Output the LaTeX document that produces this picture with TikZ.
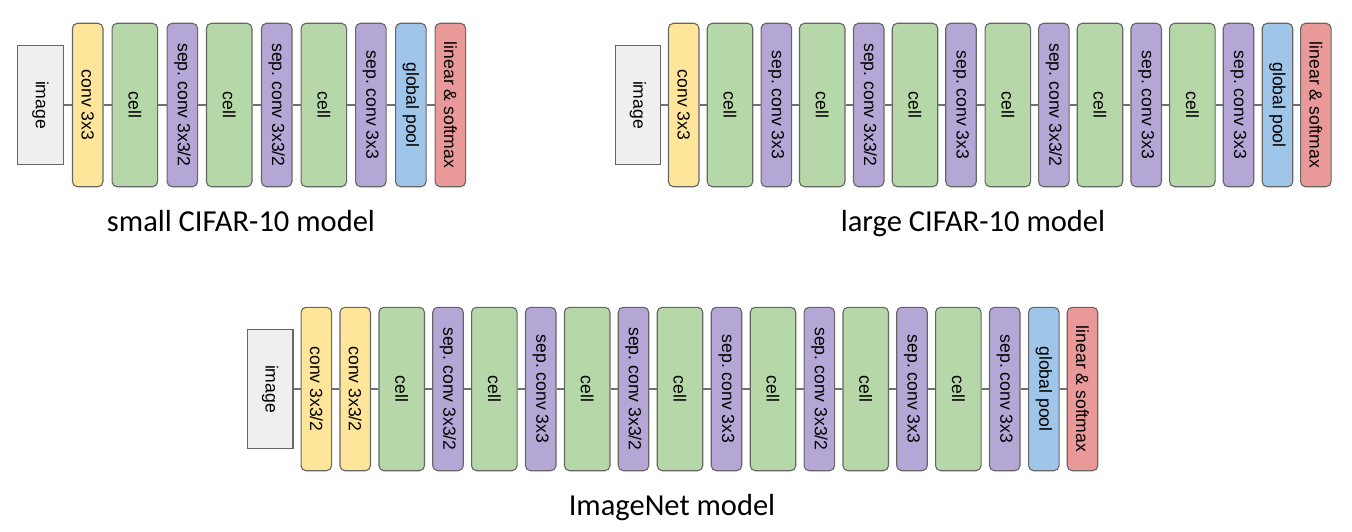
\documentclass[tikz,border=0pt]{standalone}
\usepackage{fontspec}
\setmainfont{Liberation Sans}
\newfontfamily\capfont{Carlito}
\definecolor{edgec}{HTML}{666666}
\definecolor{linec}{HTML}{707070}
\definecolor{imgc}{HTML}{EFEFEF}
\definecolor{yelc}{HTML}{FFE599}
\definecolor{grnc}{HTML}{B6D7A8}
\definecolor{purc}{HTML}{B4A7D6}
\definecolor{bluc}{HTML}{9FC5E8}
\definecolor{redc}{HTML}{EA9999}
\frenchspacing
\begin{document}
\begin{tikzpicture}[x=1pt,y=-1pt,
  blk/.style={rotate=-90, draw=edgec, line width=1.1pt, rounded corners=5pt, inner sep=0pt,
    align=center, font=\fontsize{17.6}{20}\selectfont\frenchspacing, text=black},
  narrowbox/.style={blk, minimum width=163.4pt, minimum height=30.5pt},
  widebox/.style={blk, minimum width=163.4pt, minimum height=45.5pt},
  imgbox/.style={blk, rounded corners=0pt, minimum width=118.3pt, minimum height=45.5pt, fill=imgc},
  yelbox/.style={narrowbox, fill=yelc},
  cellbox/.style={widebox, fill=grnc},
  sepbox/.style={narrowbox, fill=purc},
  poolbox/.style={narrowbox, fill=bluc},
  linbox/.style={narrowbox, fill=redc},
  conn/.style={draw=linec, line width=1.1pt},
  captext/.style={anchor=base, inner sep=0pt, font=\capfont\fontsize{30.5}{34}\selectfont, text=black}]
\useasboundingbox (0,0) rectangle (1352,532);
% small CIFAR-10
\node[imgbox]  (s0) at (40.5,105)  {image};
\node[yelbox]  (s1) at (87.7,105)  {conv 3x3};
\node[cellbox] (s2) at (134.8,105) {cell};
\node[sepbox]  (s3) at (182.3,105) {sep. conv 3x3/2};
\node[cellbox] (s4) at (229.2,105) {cell};
\node[sepbox]  (s5) at (276.7,105) {sep. conv 3x3/2};
\node[cellbox] (s6) at (323.8,105) {cell};
\node[sepbox]  (s7) at (370.8,105) {sep. conv 3x3};
\node[poolbox] (s8) at (410.8,105) {global pool};
\node[linbox]  (s9) at (450.3,105) {linear \& softmax};
\foreach \i [evaluate=\i as \j using int(\i+1)] in {0,...,8}
  \draw[conn] (s\i.north) -- (s\j.south);
\node[captext] (scap) at (241,231) {small CIFAR-10 model};
% large CIFAR-10
\node[imgbox]  (l0)  at (637.8,105)  {image};
\node[yelbox]  (l1)  at (683.7,105)  {conv 3x3};
\node[cellbox] (l2)  at (730,105)    {cell};
\node[sepbox]  (l3)  at (776.3,105)  {sep. conv 3x3};
\node[cellbox] (l4)  at (822.2,105)  {cell};
\node[sepbox]  (l5)  at (868.7,105)  {sep. conv 3x3/2};
\node[cellbox] (l6)  at (915,105)    {cell};
\node[sepbox]  (l7)  at (961,105)    {sep. conv 3x3};
\node[cellbox] (l8)  at (1007.8,105) {cell};
\node[sepbox]  (l9)  at (1053.8,105) {sep. conv 3x3/2};
\node[cellbox] (l10) at (1100,105)   {cell};
\node[sepbox]  (l11) at (1146.2,105) {sep. conv 3x3};
\node[cellbox] (l12) at (1192.3,105) {cell};
\node[sepbox]  (l13) at (1238.5,105) {sep. conv 3x3};
\node[poolbox] (l14) at (1277.5,105) {global pool};
\node[linbox]  (l15) at (1315.8,105) {linear \& softmax};
\foreach \i [evaluate=\i as \j using int(\i+1)] in {0,...,14}
  \draw[conn] (l\i.north) -- (l\j.south);
\node[captext] (lcap) at (973,231) {large CIFAR-10 model};
% ImageNet
\node[imgbox]  (i0)  at (270.2,389)  {image};
\node[yelbox]  (i1)  at (316.3,389)  {conv 3x3/2};
\node[yelbox]  (i2)  at (355.2,389)  {conv 3x3/2};
\node[cellbox] (i3)  at (401.7,389)  {cell};
\node[sepbox]  (i4)  at (448,389)    {sep. conv 3x3/2};
\node[cellbox] (i5)  at (494.3,389)  {cell};
\node[sepbox]  (i6)  at (540.7,389)  {sep. conv 3x3};
\node[cellbox] (i7)  at (587.2,389)  {cell};
\node[sepbox]  (i8)  at (633.5,389)  {sep. conv 3x3/2};
\node[cellbox] (i9)  at (680,389)    {cell};
\node[sepbox]  (i10) at (726.5,389)  {sep. conv 3x3};
\node[cellbox] (i11) at (773,389)    {cell};
\node[sepbox]  (i12) at (819.3,389)  {sep. conv 3x3/2};
\node[cellbox] (i13) at (865.7,389)  {cell};
\node[sepbox]  (i14) at (912,389)    {sep. conv 3x3};
\node[cellbox] (i15) at (958.3,389)  {cell};
\node[sepbox]  (i16) at (1004.7,389) {sep. conv 3x3};
\node[poolbox] (i17) at (1043.8,389) {global pool};
\node[linbox]  (i18) at (1082.5,389) {linear \& softmax};
\foreach \i [evaluate=\i as \j using int(\i+1)] in {0,...,17}
  \draw[conn] (i\i.north) -- (i\j.south);
\node[captext] (icap) at (672,515) {ImageNet model};
\end{tikzpicture}
\end{document}
